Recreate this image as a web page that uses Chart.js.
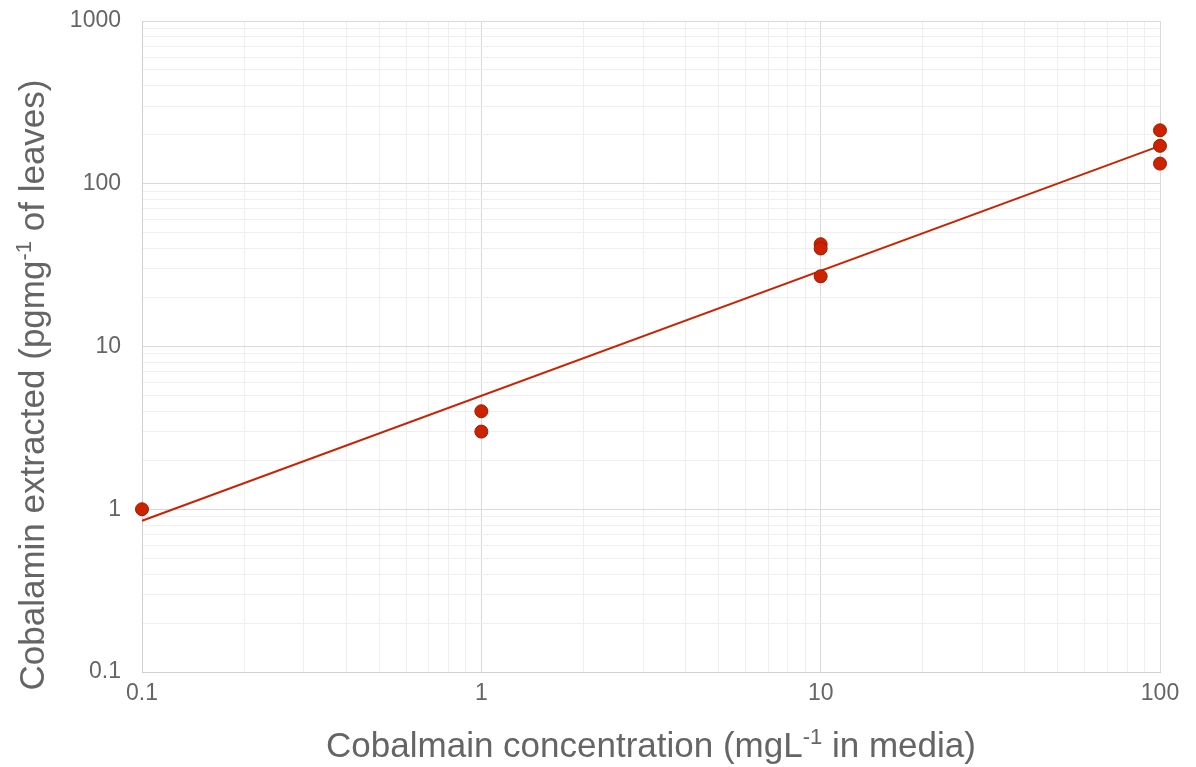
<!DOCTYPE html>
<html>
<head>
<meta charset="utf-8">
<script src="https://cdn.jsdelivr.net/npm/chart.js@4/dist/chart.umd.min.js"></script>
<style>
  html, body { margin: 0; padding: 0; background: #ffffff; }
  #wrap { width: 1196px; height: 767px; position: relative; }
</style>
</head>
<body>
<div id="wrap"><canvas id="c" width="1196" height="767"></canvas></div>
<script>
// Cobalamin measured in leaves for each concentration in the growth media
const concentrations = [0.1, 1, 1, 10, 10, 10, 100, 100, 100];
const extracted = [1.0, 4.0, 3.0, 42.5, 40, 27, 213, 171, 133];

// Power-law trendline end points
const trendX = [0.1, 100];
const trendY = [0.85, 171];

// Axis ranges and labelled decades
const xDecades = [0.1, 1, 10, 100];
const yDecades = [0.1, 1, 10, 100, 1000];

// Axis titles; parts flagged sup are drawn as superscripts
const xTitle = [
  { text: 'Cobalmain concentration (mgL' },
  { text: '-1', sup: true },
  { text: ' in media)' }
];
const yTitle = [
  { text: 'Cobalamin extracted (pgmg' },
  { text: '-1', sup: true },
  { text: ' of leaves)' }
];

const FONT = '"Liberation Sans", Arial, sans-serif';
const TEXT_GRAY = '#656565';
const MARK_RED = '#cc2200';

// Tick values 1..9 x 10^n within each decade
function logTicks(decades) {
  const out = [];
  for (let i = 0; i < decades.length; i++) {
    const d = decades[i];
    out.push({ value: d, major: true });
    if (i < decades.length - 1) {
      for (let k = 2; k <= 9; k++) out.push({ value: +(d * k).toPrecision(6), major: false });
    }
  }
  return out;
}

function isDecade(v) {
  const l = Math.log10(v);
  return Math.abs(l - Math.round(l)) < 1e-9;
}

function fmt(v) {
  return v < 1 ? String(+v.toFixed(1)) : String(Math.round(v));
}

function gridColor(ctx) {
  if (!ctx.tick) return '#efefef';
  return isDecade(ctx.tick.value) ? '#d9d9d9' : '#efefef';
}

// Draws text made of normal and superscript parts, centred on (x, y) baseline
function drawRich(ctx, parts, x, y, size) {
  const supSize = Math.round(size * 0.62);
  const widths = parts.map(p => {
    ctx.font = (p.sup ? supSize : size) + 'px ' + FONT;
    return ctx.measureText(p.text).width;
  });
  const total = widths.reduce((a, b) => a + b, 0);
  let cx = x - total / 2;
  ctx.textAlign = 'left';
  ctx.textBaseline = 'alphabetic';
  parts.forEach((p, i) => {
    ctx.font = (p.sup ? supSize : size) + 'px ' + FONT;
    ctx.fillText(p.text, cx, p.sup ? y - size * 0.36 : y);
    cx += widths[i];
  });
}

const axisTitles = {
  id: 'axisTitles',
  afterDraw(chart) {
    const ctx = chart.ctx;
    const area = chart.chartArea;
    const size = 35;
    ctx.save();
    ctx.fillStyle = TEXT_GRAY;
    drawRich(ctx, xTitle, (area.left + area.right) / 2, 757, size);
    ctx.translate(44, 385);
    ctx.rotate(-Math.PI / 2);
    drawRich(ctx, yTitle, 0, 0, size);
    ctx.restore();
  }
};

new Chart(document.getElementById('c'), {
  type: 'scatter',
  data: {
    datasets: [
      {
        label: 'Measured',
        data: concentrations.map((x, i) => ({ x, y: extracted[i] })),
        pointRadius: 6.5,
        pointHoverRadius: 6.5,
        backgroundColor: MARK_RED,
        borderColor: '#a31a00',
        borderWidth: 1,
        showLine: false,
        clip: false
      },
      {
        label: 'Power trend',
        data: trendX.map((x, i) => ({ x, y: trendY[i] })),
        showLine: true,
        pointRadius: 0,
        borderColor: MARK_RED,
        borderWidth: 2,
        fill: false,
        clip: false
      }
    ]
  },
  options: {
    responsive: false,
    animation: false,
    devicePixelRatio: 1,
    layout: { padding: { top: 21, right: 36, left: 0, bottom: 0 } },
    plugins: {
      legend: { display: false },
      tooltip: { enabled: false }
    },
    scales: {
      x: {
        type: 'logarithmic',
        min: xDecades[0],
        max: xDecades[xDecades.length - 1],
        afterBuildTicks(scale) { scale.ticks = logTicks(xDecades); },
        afterFit(scale) {
          scale.height = 95;
          scale.paddingLeft = 0;
          scale.paddingRight = 0;
        },
        grid: { color: gridColor, lineWidth: 1, drawTicks: false },
        border: { color: '#d0d0d0', width: 1 },
        ticks: {
          autoSkip: false,
          maxRotation: 0,
          padding: 8,
          color: TEXT_GRAY,
          font: { family: FONT, size: 23 },
          callback: (v) => isDecade(v) ? fmt(v) : ''
        }
      },
      y: {
        type: 'logarithmic',
        min: yDecades[0],
        max: yDecades[yDecades.length - 1],
        afterBuildTicks(scale) { scale.ticks = logTicks(yDecades); },
        afterFit(scale) {
          scale.width = 142;
          scale.paddingTop = 0;
          scale.paddingBottom = 0;
        },
        grid: { color: gridColor, lineWidth: 1, drawTicks: false },
        border: { color: '#d0d0d0', width: 1 },
        ticks: {
          autoSkip: false,
          padding: 21,
          color: TEXT_GRAY,
          font: { family: FONT, size: 23 },
          callback: (v) => isDecade(v) ? fmt(v) : ''
        }
      }
    }
  },
  plugins: [axisTitles]
});
</script>
</body>
</html>
